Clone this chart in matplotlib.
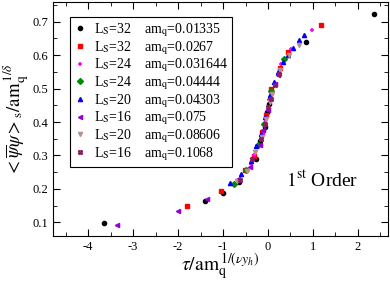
import matplotlib
matplotlib.use("Agg")
import matplotlib.pyplot as plt
from matplotlib.ticker import MultipleLocator

plt.rcParams['font.family'] = ['Liberation Serif', 'DejaVu Serif']
plt.rcParams['mathtext.fontset'] = 'stix'
plt.rcParams['axes.unicode_minus'] = False

# lattice size, quark mass, and scaled data for each run
sizes = [32, 32, 24, 24, 20, 16, 20, 16]
masses = ['0.01335', '0.0267', '0.031644', '0.04444', '0.04303', '0.075', '0.08606', '0.1068']

x_l32_m01335 = [-3.64, -1.41, -1.01, -0.65, -0.27, -0.17, -0.07, -0.03, 0.02, 0.85, 2.35]
y_l32_m01335 = [0.097, 0.163, 0.187, 0.222, 0.290, 0.343, 0.385, 0.430, 0.455, 0.638, 0.723]

x_l32_m0267 = [-1.80, -1.05, -0.52, -0.30, -0.13, -0.05, 0.07, 0.26, 0.45, 1.19]
y_l32_m0267 = [0.149, 0.195, 0.255, 0.297, 0.370, 0.420, 0.500, 0.563, 0.610, 0.690]

x_l24_m031644 = [-0.38, -0.30, -0.12, -0.04, 0.05, 0.09, 0.30, 0.52, 0.97]
y_l24_m031644 = [0.273, 0.302, 0.365, 0.405, 0.468, 0.490, 0.575, 0.618, 0.675]

x_l24_m04444 = [-0.76, -0.50, -0.22, -0.08, 0.07, 0.36]
y_l24_m04444 = [0.216, 0.257, 0.330, 0.395, 0.493, 0.589]

x_l20_m04303 = [-0.84, -0.59, -0.37, -0.26, -0.15, -0.07, 0.05, 0.13, 0.22, 0.33, 0.44, 0.56, 0.68, 0.79]
y_l20_m04303 = [0.219, 0.245, 0.283, 0.328, 0.365, 0.415, 0.480, 0.520, 0.550, 0.578, 0.600, 0.622, 0.644, 0.661]

x_l16_m075 = [-3.35, -2.00, -1.35, -0.67, -0.41, -0.18, -0.10, -0.01, 0.02, 0.15, 0.22]
y_l16_m075 = [0.091, 0.135, 0.170, 0.230, 0.266, 0.330, 0.375, 0.435, 0.468, 0.515, 0.540]

x_l20_m08606 = [-0.70, -0.47, -0.28, -0.14, -0.05, 0.04, 0.10, 0.27, 0.46, 0.70]
y_l20_m08606 = [0.225, 0.252, 0.310, 0.355, 0.410, 0.460, 0.485, 0.555, 0.600, 0.630]

x_l16_m1068 = [-0.63, -0.35, -0.16, -0.06, 0.00, 0.06, 0.16, 0.24]
y_l16_m1068 = [0.228, 0.290, 0.350, 0.395, 0.445, 0.470, 0.510, 0.545]

xs = [x_l32_m01335, x_l32_m0267, x_l24_m031644, x_l24_m04444,
      x_l20_m04303, x_l16_m075, x_l20_m08606, x_l16_m1068]
ys = [y_l32_m01335, y_l32_m0267, y_l24_m031644, y_l24_m04444,
      y_l20_m04303, y_l16_m075, y_l20_m08606, y_l16_m1068]

colors = ['black', 'red', '#ff00ff', '#008b00', 'blue', '#9400d3', '#bc8f8f', '#8b1c62']
markers = ['o', 's', '+', 'D', '^', '<', 'v', 'X']

fig = plt.figure(figsize=(3.9, 2.83), dpi=100)
ax = fig.add_axes([0.136, 0.166, 0.859, 0.827])

for x, y, c, m, L, am in zip(xs, ys, colors, markers, sizes, masses):
    ax.plot(x, y, ls='none', marker=m, ms=3.5 if m == '+' else 3, mew=1.2 if m == '+' else 1,
            color=c, mec=c,
            label=r'L$_\mathrm{S}$=%d    am$_\mathrm{q}$=%s' % (L, am))

ax.set_xlim(-4.78, 2.67)
ax.set_ylim(0.059, 0.759)
ax.xaxis.set_major_locator(MultipleLocator(1))
ax.xaxis.set_minor_locator(MultipleLocator(0.5))
ax.yaxis.set_major_locator(MultipleLocator(0.1))
ax.yaxis.set_minor_locator(MultipleLocator(0.05))
ax.tick_params(which='both', direction='in', top=True, right=True, labelsize=9)
ax.tick_params(which='major', length=5)
ax.tick_params(which='minor', length=3)

ax.set_xlabel(r'$\tau/\mathrm{am}_\mathrm{q}^{\,1/(\nu y_h)}$', fontsize=14, labelpad=-1)
ax.set_ylabel(r'$<\overline{\psi}\psi>_\mathrm{s}/\mathrm{am}_\mathrm{q}^{\,1/\delta}$', fontsize=13.5, labelpad=1)

ax.text(0.41, 0.207, r'$1^{\mathrm{st}}$ Order', fontsize=14)

leg = ax.legend(loc='upper left', bbox_to_anchor=(0.051, 0.936), borderaxespad=0,
                fontsize=10, numpoints=1, handlelength=0.8, handletextpad=0.6,
                labelspacing=0.0, fancybox=False, edgecolor='black', framealpha=1,
                borderpad=0.3)
leg.get_frame().set_linewidth(0.8)

fig.savefig('out.png', dpi=100)
